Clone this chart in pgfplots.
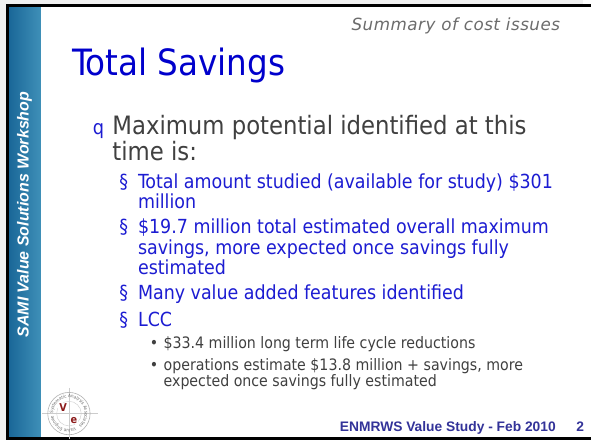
\documentclass[border=0pt]{standalone}
\usepackage{pgfplots}
\pgfplotsset{compat=1.18}
\usetikzlibrary{decorations.text}
\usepackage{fontspec}
\setmainfont{DejaVu Sans Condensed}
\newfontfamily\arialf{Liberation Sans}
\newfontfamily\verd[LetterSpace=3]{DejaVu Sans}
\definecolor{barL}{HTML}{1A6798}
\definecolor{barR}{HTML}{3E8FB7}
\definecolor{ttl}{HTML}{0000CC}
\definecolor{sub}{HTML}{1C1CD2}
\definecolor{body}{HTML}{404040}
\definecolor{foot}{HTML}{333399}
\definecolor{logored}{HTML}{8B1A1A}
\begin{document}
\begin{tikzpicture}
\begin{axis}[width=592pt,height=447pt,scale only axis,
  xmin=0,xmax=592,ymin=0,ymax=447,y dir=reverse,
  axis lines=none,clip=false]
% background
\fill[gray!12] (axis cs:0,0) rectangle (axis cs:592,447);
\fill[white] (axis cs:8,6) rectangle (axis cs:592,445);
% left gradient bar
\shade[left color=barL,right color=barR] (axis cs:9,7) rectangle (axis cs:41,445);
% frame
\addplot[black,line width=2.4pt,forget plot] coordinates {(600,5.6) (7.6,5.6) (7.6,445.4) (600,445.4)};
% vertical text
\node[rotate=90,white,font=\arialf\fontsize{16.2}{18}\selectfont\bfseries\itshape] at (axis cs:25,218) {SAMI Value Solutions Workshop};
% logo
\draw[gray!40,line width=0.5pt] (axis cs:43,420) -- (axis cs:100,420);
\draw[gray!40,line width=0.5pt] (axis cs:70,394) -- (axis cs:70,446);
\draw[gray!60,line width=0.6pt] (axis cs:70,420) circle[radius=21.5pt];
\draw[gray!40,line width=0.4pt] (axis cs:70,420) circle[radius=12.5pt];
\path[decorate,decoration={text along path,text align=fit to path,
  text={|\fontsize{4.6}{5}\selectfont\color{gray!85!black}|Systematic Analysis Associates ~ Value Engineering Services ~}}]
  (axis cs:54,420) arc[start angle=180,end angle=-175,radius=16pt];
\node[text=logored,fill=white,inner sep=0.8pt,font=\fontsize{11}{11}\selectfont\bfseries] at (axis cs:64,414) {V};
\node[text=logored,fill=white,inner sep=0.8pt,font=\fontsize{11}{11}\selectfont\bfseries] at (axis cs:75,427) {e};
% header
\node[anchor=base east,inner sep=0pt,gray!85!black,font=\verd\fontsize{17}{18}\selectfont\itshape] at (axis cs:569,31) {Summary of cost issues};
% title
\node[anchor=base west,inner sep=0pt,ttl,font=\fontsize{36.8}{40}\selectfont] at (axis cs:73,77) {Total Savings};
% level 1
\node[anchor=base west,inner sep=0pt,sub,font=\fontsize{20}{22}\selectfont] at (axis cs:94,137) {q};
\node[anchor=base west,inner sep=0pt,body,font=\fontsize{25.7}{26}\selectfont] at (axis cs:114,137) {Maximum potential identified at this};
\node[anchor=base west,inner sep=0pt,body,font=\fontsize{25.7}{26}\selectfont] at (axis cs:114,163) {time is:};
% level 2
\begin{scope}[every node/.style={anchor=base west,inner sep=0pt,sub,font=\fontsize{19.7}{21}\selectfont}]
\node at (axis cs:121,191) {\S};
\node at (axis cs:140,191) {Total amount studied (available for study) \$301};
\node at (axis cs:140,212) {million};
\node at (axis cs:121,237) {\S};
\node at (axis cs:140,237) {\$19.7 million total estimated overall maximum};
\node at (axis cs:140,258) {savings, more expected once savings fully};
\node at (axis cs:140,279) {estimated};
\node at (axis cs:121,304) {\S};
\node at (axis cs:140,304) {Many value added features identified};
\node at (axis cs:121,332) {\S};
\node at (axis cs:140,332) {LCC};
\end{scope}
% level 3
\begin{scope}[every node/.style={anchor=base west,inner sep=0pt,body,font=\fontsize{16}{17}\selectfont}]
\node at (axis cs:152,354) {\textbullet};
\node at (axis cs:166,354) {\$33.4 million long term life cycle reductions};
\node at (axis cs:152,376) {\textbullet};
\node at (axis cs:166,376) {operations estimate \$13.8 million + savings, more};
\node at (axis cs:166,393) {expected once savings fully estimated};
\end{scope}
% footer
\node[anchor=base west,inner sep=0pt,foot,font=\arialf\fontsize{14}{15}\selectfont\bfseries] at (axis cs:345,438) {ENMRWS Value Study - Feb 2010};
\node[anchor=base west,inner sep=0pt,foot,font=\arialf\fontsize{14}{15}\selectfont\bfseries] at (axis cs:585,438) {2};
\end{axis}
\end{tikzpicture}
\end{document}
